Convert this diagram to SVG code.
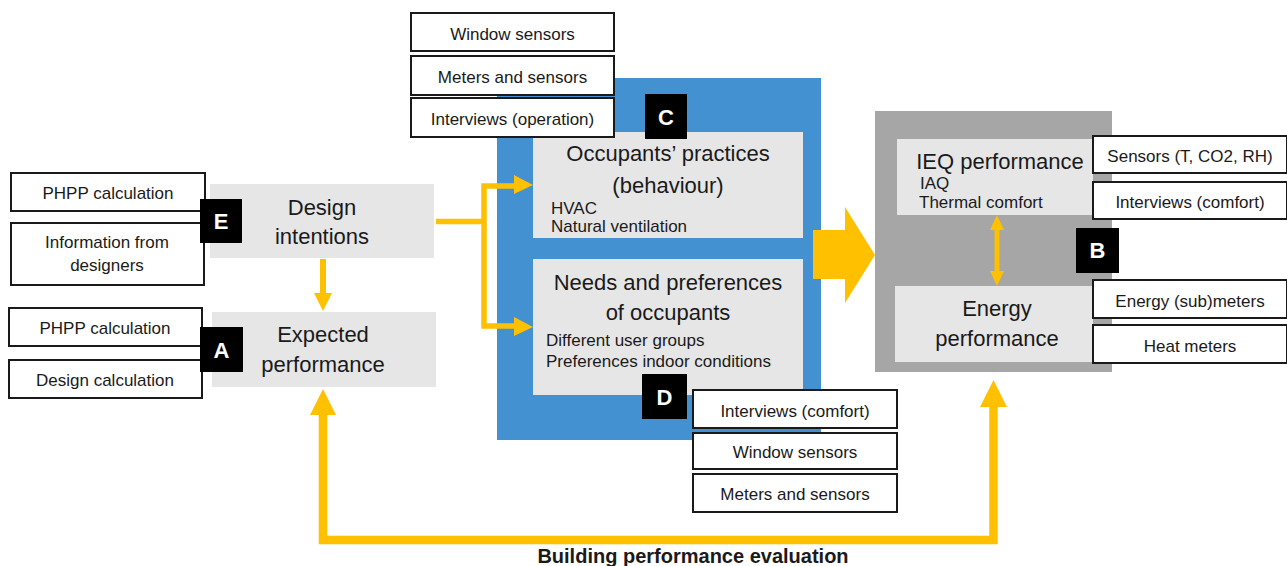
<svg xmlns="http://www.w3.org/2000/svg" width="1287" height="566" viewBox="0 0 1287 566">
  <style>
    text { font-family: "Liberation Sans", Arial, sans-serif; fill: #1a1a1a; }
    .src rect { fill: #ffffff; stroke: #1a1a1a; stroke-width: 2; }
    .src text { font-size: 17px; text-anchor: middle; }
    .panel { fill: #e6e6e6; }
    .title { font-size: 22px; text-anchor: middle; }
    .body { font-size: 17px; }
    .tag rect { fill: #000000; }
    .tag text { fill: #ffffff; font-size: 22px; font-weight: bold; text-anchor: middle; }
    .flow { fill: none; stroke: #ffc000; }
    .head { fill: #ffc000; }
  </style>

  <rect width="1287" height="566" fill="#ffffff"/>

  <!-- Frames behind the panels -->
  <rect id="occupant-frame" x="497" y="78" width="324" height="362" fill="#4391d0"/>
  <rect id="performance-frame" x="875" y="111" width="237" height="261" fill="#a6a6a6"/>

  <!-- Connectors -->
  <g id="connectors">
    <!-- design intentions to expected performance -->
    <line class="flow" x1="323" y1="259" x2="323" y2="294" stroke-width="6"/>
    <polygon class="head" points="314,293 332,293 323,311"/>
    <!-- design intentions to occupant panels -->
    <polyline class="flow" points="436,221.5 484,221.5" stroke-width="5.5"/>
    <polyline class="flow" points="515,186 484,186 484,326 515,326" stroke-width="5.5"/>
    <polygon class="head" points="514,175 533,185 514,194"/>
    <polygon class="head" points="514,317 533,327 514,336"/>
    <!-- occupants to performance (block arrow) -->
    <polygon class="head" points="813,230 845,230 845,207 875,255 845,303 845,279 813,279"/>
    <!-- IEQ <-> energy -->
    <line class="flow" x1="997" y1="226" x2="997" y2="275" stroke-width="5"/>
    <polygon class="head" points="990,230 1004,230 997,215"/>
    <polygon class="head" points="990,271 1004,271 997,286"/>
    <!-- evaluation loop -->
    <polyline class="flow" points="323,414 323,540 993.5,540 993.5,406" stroke-width="8.5"/>
    <polygon class="head" points="310,415 336,415 323,389"/>
    <polygon class="head" points="980,407 1007,407 993.5,380"/>
  </g>

  <!-- Design intentions -->
  <g id="design-intentions">
    <rect class="panel" x="210" y="184" width="224" height="74"/>
    <text class="title" x="322" y="215">Design</text>
    <text class="title" x="322" y="244">intentions</text>
  </g>
  <g id="design-sources" class="src">
    <rect x="11" y="173" width="194" height="38"/>
    <text x="108" y="199">PHPP calculation</text>
    <rect x="11" y="223" width="193" height="62"/>
    <text x="107" y="248">Information from</text>
    <text x="107" y="271">designers</text>
  </g>
  <g id="tag-e" class="tag">
    <rect x="200" y="199" width="42" height="44"/>
    <text x="221" y="229">E</text>
  </g>

  <!-- Expected performance -->
  <g id="expected-performance">
    <rect class="panel" x="212" y="312" width="224" height="75"/>
    <text class="title" x="323" y="342">Expected</text>
    <text class="title" x="323" y="372">performance</text>
  </g>
  <g id="expected-sources" class="src">
    <rect x="9" y="308" width="193" height="38"/>
    <text x="105" y="334">PHPP calculation</text>
    <rect x="9" y="360" width="193" height="38"/>
    <text x="105" y="386">Design calculation</text>
  </g>
  <g id="tag-a" class="tag">
    <rect x="200" y="327" width="43" height="45"/>
    <text x="221.5" y="358">A</text>
  </g>

  <!-- Occupants' practices -->
  <g id="occupant-practices">
    <rect class="panel" x="533" y="132" width="270" height="106"/>
    <text class="title" x="668" y="161">Occupants’ practices</text>
    <text class="title" x="668" y="193">(behaviour)</text>
    <text class="body" x="551" y="214">HVAC</text>
    <text class="body" x="551" y="232">Natural ventilation</text>
  </g>
  <g id="practice-sources" class="src">
    <rect x="411" y="13" width="203" height="38"/>
    <text x="512.5" y="40">Window sensors</text>
    <rect x="411" y="56" width="203" height="39"/>
    <text x="512.5" y="83">Meters and sensors</text>
    <rect x="411" y="98" width="203" height="39"/>
    <text x="512.5" y="125">Interviews (operation)</text>
  </g>
  <g id="tag-c" class="tag">
    <rect x="645" y="94" width="42" height="45"/>
    <text x="666" y="125">C</text>
  </g>

  <!-- Needs and preferences -->
  <g id="occupant-needs">
    <rect class="panel" x="533" y="259" width="270" height="136"/>
    <text class="title" x="668" y="290">Needs and preferences</text>
    <text class="title" x="668" y="320">of occupants</text>
    <text class="body" x="546" y="346">Different user groups</text>
    <text class="body" x="546" y="367">Preferences indoor conditions</text>
  </g>
  <g id="needs-sources" class="src">
    <rect x="693" y="390" width="204" height="38"/>
    <text x="795" y="417">Interviews (comfort)</text>
    <rect x="693" y="433" width="204" height="36"/>
    <text x="795" y="458">Window sensors</text>
    <rect x="693" y="474" width="204" height="38"/>
    <text x="795" y="500">Meters and sensors</text>
  </g>
  <g id="tag-d" class="tag">
    <rect x="642" y="374" width="45" height="45"/>
    <text x="664.5" y="405">D</text>
  </g>

  <!-- IEQ performance -->
  <g id="ieq-performance">
    <rect class="panel" x="897" y="139" width="196" height="76"/>
    <text class="title" x="1000" y="169">IEQ performance</text>
    <text class="body" x="920" y="189">IAQ</text>
    <text class="body" x="919" y="208">Thermal comfort</text>
  </g>
  <g id="ieq-sources" class="src">
    <rect x="1093" y="136" width="194" height="37"/>
    <text x="1190" y="162">Sensors (T, CO2, RH)</text>
    <rect x="1093" y="182" width="194" height="37"/>
    <text x="1190" y="208">Interviews (comfort)</text>
  </g>

  <!-- Energy performance -->
  <g id="energy-performance">
    <rect class="panel" x="895" y="286" width="198" height="76"/>
    <text class="title" x="997" y="316">Energy</text>
    <text class="title" x="997" y="346">performance</text>
  </g>
  <g id="energy-sources" class="src">
    <rect x="1093" y="280" width="194" height="38"/>
    <text x="1190" y="307">Energy (sub)meters</text>
    <rect x="1093" y="325" width="194" height="38"/>
    <text x="1190" y="352">Heat meters</text>
  </g>
  <g id="tag-b" class="tag">
    <rect x="1076" y="228" width="43" height="45"/>
    <text x="1097.5" y="258">B</text>
  </g>

  <!-- Loop caption -->
  <text id="evaluation-caption" x="693" y="563" font-size="20" font-weight="bold" text-anchor="middle">Building performance evaluation</text>
</svg>
